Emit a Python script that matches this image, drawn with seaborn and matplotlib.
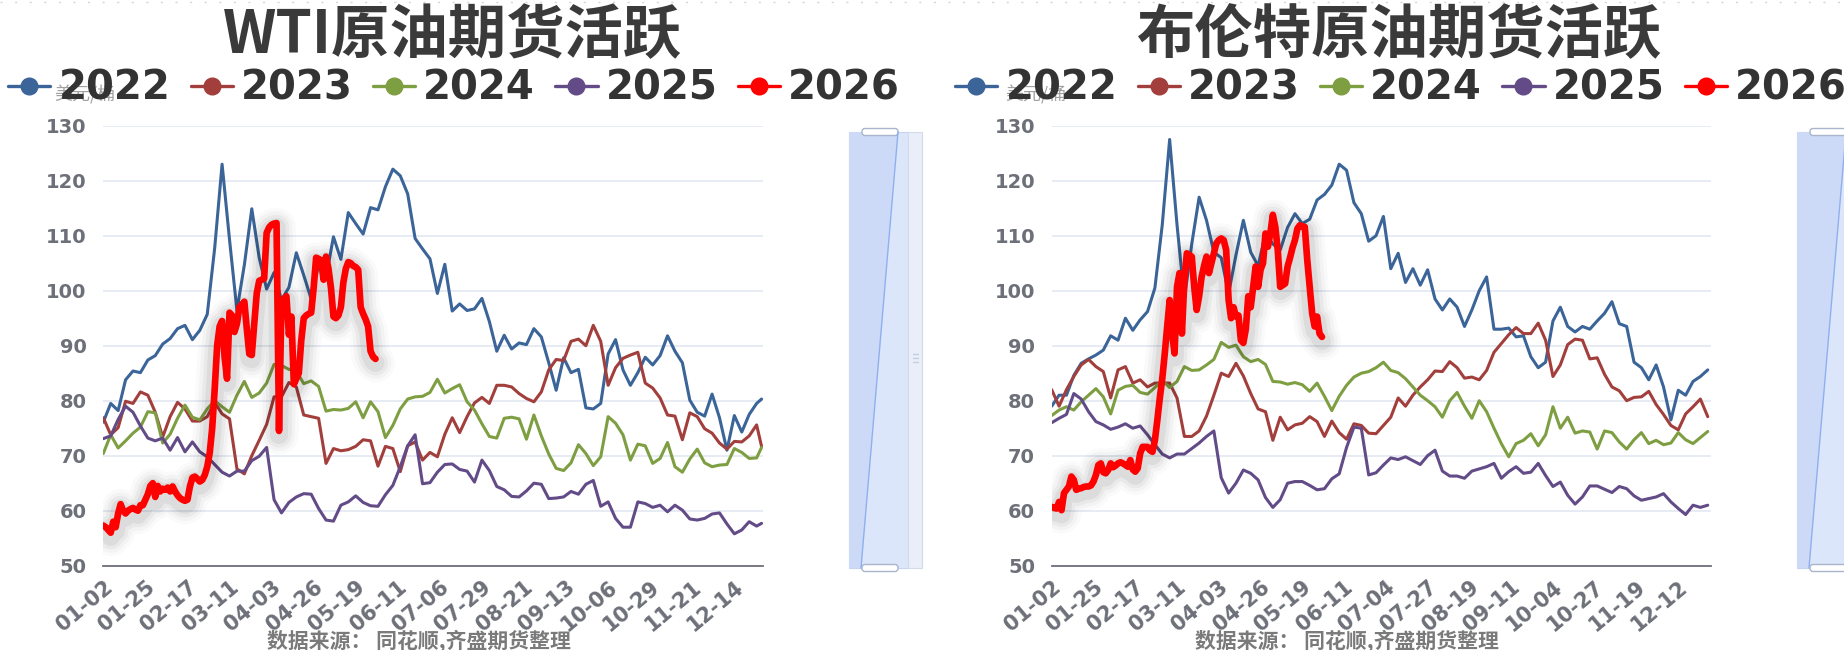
import numpy as np
import pandas as pd
import matplotlib
matplotlib.use("Agg")
import matplotlib.pyplot as plt
import seaborn as sns
from matplotlib import patheffects as pe
from matplotlib.lines import Line2D
from matplotlib.patches import Rectangle, Polygon, FancyBboxPatch
from matplotlib.font_manager import FontProperties

# ---------------- data ----------------
YEARS = ["2022", "2023", "2024", "2025", "2026"]
STEP = 3          # category spacing of the 2022-2025 samples (2026 is daily)
TICK_EVERY = 17   # a date label every 17 categories

WTI_TICKS = ["01-02", "01-25", "02-17", "03-11", "04-03", "04-26", "05-19", "06-11",
             "07-06", "07-29", "08-21", "09-13", "10-06", "10-29", "11-21", "12-14"]
BRENT_TICKS = ["01-02", "01-25", "02-17", "03-11", "04-03", "04-26", "05-19", "06-11",
               "07-04", "07-27", "08-19", "09-11", "10-04", "10-27", "11-19", "12-12"]
WTI_N_CATS = 267
BRENT_N_CATS = 269

WTI_2022 = [76.1, 79.5, 78.2, 83.8, 85.4, 85.1, 87.4, 88.2, 90.3, 91.3,
            93.1, 93.7, 91.1, 92.8, 95.7, 107.7, 123.0, 109.3, 96.4, 104.7,
            114.9, 106.0, 100.3, 103.3, 98.3, 100.6, 106.9, 102.8, 98.5, 104.7,
            102.4, 109.8, 105.7, 114.2, 112.2, 110.3, 115.1, 114.7, 118.9, 122.1,
            120.9, 117.6, 109.5, 107.6, 105.8, 99.5, 104.8, 96.3, 97.6, 96.4,
            96.7, 98.6, 94.4, 89.0, 91.9, 89.4, 90.5, 90.2, 93.1, 91.6,
            86.9, 81.9, 87.8, 85.1, 85.7, 78.7, 78.5, 79.5, 88.5, 91.1,
            85.6, 82.8, 85.1, 87.9, 86.5, 88.2, 91.8, 89.0, 86.9, 80.1,
            77.9, 77.2, 81.2, 76.9, 71.0, 77.3, 74.3, 77.5, 79.5, 80.3]
WTI_2023 = [76.9, 73.8, 75.1, 79.9, 79.5, 81.6, 81.0, 77.9, 73.4, 77.1,
            79.7, 78.5, 76.3, 76.3, 77.1, 79.7, 77.6, 76.7, 67.6, 66.7,
            70.0, 72.8, 75.7, 80.7, 80.7, 83.3, 82.5, 77.4, 77.1, 76.8,
            68.6, 71.3, 70.9, 71.1, 71.7, 72.9, 72.7, 68.1, 71.7, 71.3,
            67.1, 71.8, 72.5, 69.2, 70.6, 69.8, 73.9, 76.9, 74.2, 77.1,
            79.6, 80.6, 79.5, 82.8, 82.8, 82.5, 81.3, 80.4, 79.8, 81.6,
            85.6, 87.5, 87.3, 90.8, 91.2, 90.0, 93.7, 90.8, 82.8, 86.0,
            87.7, 88.3, 88.8, 83.2, 82.3, 80.5, 77.4, 77.2, 72.9, 77.8,
            77.1, 74.9, 74.1, 72.3, 71.2, 72.6, 72.5, 73.6, 75.6, 71.7]
WTI_2024 = [70.4, 73.8, 71.4, 72.7, 74.1, 75.2, 78.0, 77.8, 72.3, 73.9,
            76.8, 79.2, 77.0, 76.5, 78.5, 80.0, 78.9, 77.9, 81.0, 83.5,
            80.6, 81.4, 83.2, 86.6, 86.4, 85.7, 85.4, 83.1, 83.6, 82.6,
            78.1, 78.4, 78.3, 78.6, 79.8, 76.9, 79.8, 78.0, 73.3, 75.5,
            78.5, 80.3, 80.7, 80.8, 81.5, 83.9, 81.4, 82.2, 82.9, 79.8,
            78.3, 75.8, 73.5, 73.2, 76.8, 77.0, 76.7, 73.0, 77.4, 73.6,
            70.3, 67.7, 67.3, 68.7, 72.0, 70.4, 68.2, 69.8, 77.1, 75.9,
            73.8, 69.2, 72.1, 71.8, 68.6, 69.5, 72.4, 68.0, 67.0, 69.4,
            71.2, 68.7, 68.0, 68.3, 68.4, 71.3, 70.6, 69.5, 69.6, 71.5]
WTI_2025 = [73.1, 73.6, 76.6, 79.0, 77.9, 75.4, 73.2, 72.7, 73.2, 71.0,
            73.3, 70.7, 72.5, 70.7, 69.8, 68.4, 67.0, 66.3, 67.2, 67.2,
            69.1, 69.9, 71.5, 62.0, 59.6, 61.5, 62.5, 63.1, 63.0, 60.4,
            58.3, 58.1, 61.0, 61.6, 62.7, 61.5, 60.9, 60.8, 62.9, 64.6,
            68.0, 71.8, 73.8, 64.9, 65.1, 67.0, 68.4, 68.5, 67.5, 67.2,
            65.2, 69.2, 67.3, 64.4, 63.8, 62.6, 62.5, 63.6, 65.0, 64.8,
            62.2, 62.3, 62.5, 63.5, 63.0, 64.8, 65.5, 60.8, 61.6, 58.6,
            57.0, 57.0, 61.6, 61.3, 60.6, 61.0, 59.8, 61.0, 60.1, 58.5,
            58.3, 58.6, 59.4, 59.6, 57.6, 55.8, 56.5, 58.0, 57.2, 57.7]
WTI_2026 = [57.3, 57.0, 56.5, 56.0, 58.0, 57.0, 59.5, 61.2, 60.0, 59.5,
            60.0, 60.3, 60.5, 60.2, 60.0, 61.0, 61.0, 62.0, 63.0, 64.5,
            65.0, 62.5, 64.5, 63.5, 64.0, 63.8, 64.2, 63.5, 64.4, 63.5,
            62.8, 62.3, 62.0, 61.8, 62.0, 64.4, 66.0, 66.2, 65.8, 65.3,
            65.6, 66.5, 68.0, 70.5, 75.0, 82.0, 90.0, 93.5, 94.5, 88.0,
            84.0, 96.0, 95.5, 92.5, 94.0, 97.0, 97.5, 98.0, 93.0, 88.5,
            88.3, 94.0, 99.5, 101.8, 102.0, 102.2, 110.5, 111.5, 112.0, 112.2,
            112.3, 74.5, 98.0, 98.5, 99.0, 92.0, 95.3, 83.0, 84.0, 85.0,
            91.0, 95.0, 95.5, 95.8, 96.0, 100.5, 106.0, 105.8, 105.5, 102.0,
            106.2, 104.0, 100.5, 95.3, 95.0, 95.5, 97.0, 101.5, 104.0, 105.2,
            105.0, 104.5, 104.3, 103.8, 97.0, 95.8, 94.8, 93.5, 89.0, 88.0,
            87.6]

BRENT_2022 = [79.0, 81.0, 81.0, 84.6, 86.8, 87.6, 88.3, 89.2, 91.8, 91.0,
              95.0, 92.8, 94.7, 96.2, 100.5, 112.0, 127.5, 112.0, 98.5, 108.5,
              117.0, 112.8, 107.0, 106.0, 99.5, 106.5, 112.8, 107.0, 104.5, 110.4,
              108.5, 107.4, 111.5, 114.0, 112.2, 113.0, 116.5, 117.5, 119.2, 123.0,
              121.9, 116.0, 114.0, 109.0, 110.0, 113.5, 104.0, 106.8, 101.5, 104.0,
              101.0, 103.8, 98.5, 96.5, 98.5, 97.0, 93.5, 96.5, 100.0, 102.5,
              93.0, 93.0, 93.2, 91.6, 91.8, 88.0, 86.0, 87.0, 94.5, 97.0,
              93.5, 92.5, 93.5, 93.0, 94.5, 95.9, 98.0, 94.0, 93.5, 87.0,
              86.0, 83.8, 86.5, 82.5, 76.5, 81.9, 81.0, 83.5, 84.4, 85.6]
BRENT_2023 = [82.0, 79.0, 82.0, 84.4, 86.5, 87.5, 86.2, 85.3, 80.5, 85.6,
              86.2, 83.2, 83.8, 82.5, 83.2, 83.2, 83.2, 80.5, 73.5, 73.5,
              74.5, 77.2, 81.0, 85.0, 84.4, 86.8, 84.5, 81.3, 78.5, 78.0,
              72.8, 77.0, 74.7, 75.6, 75.9, 77.1, 76.2, 73.5, 76.3, 74.2,
              73.0, 75.8, 75.5, 74.1, 74.0, 75.5, 77.0, 80.5, 79.0, 81.0,
              82.5, 83.8, 85.4, 85.3, 87.1, 86.0, 84.1, 84.3, 83.8, 85.5,
              88.8, 90.4, 92.0, 93.3, 92.2, 92.2, 94.1, 91.0, 84.4, 86.5,
              90.2, 91.2, 91.0, 87.6, 87.8, 84.8, 82.5, 81.8, 80.0, 80.6,
              80.7, 81.7, 79.3, 77.5, 75.5, 74.7, 77.6, 78.9, 80.3, 77.1]
BRENT_2024 = [77.3, 78.3, 78.9, 78.3, 79.8, 81.0, 82.2, 80.7, 77.6, 81.9,
              82.6, 82.8, 81.5, 81.2, 82.4, 83.7, 82.4, 83.5, 86.2, 85.5,
              85.6, 86.5, 87.5, 90.6, 89.7, 90.1, 88.0, 87.1, 87.5, 86.6,
              83.5, 83.4, 83.0, 83.3, 82.9, 81.7, 83.2, 80.8, 78.2, 80.8,
              82.8, 84.3, 85.0, 85.3, 86.0, 87.0, 85.5, 85.1, 84.0, 82.5,
              81.0, 80.0, 78.9, 77.0, 80.0, 81.5, 79.0, 76.8, 80.0, 78.0,
              75.0, 72.2, 69.8, 72.2, 72.8, 74.0, 71.8, 73.8, 78.9, 75.0,
              77.0, 74.1, 74.5, 74.3, 71.2, 74.5, 74.2, 72.5, 71.2, 72.9,
              74.2, 72.2, 72.8, 72.0, 72.3, 74.2, 72.9, 72.2, 73.3, 74.4]
BRENT_2025 = [76.0, 76.8, 77.5, 81.3, 80.3, 78.0, 76.2, 75.6, 74.8, 75.2,
              75.8, 75.0, 75.4, 73.8, 72.0, 70.3, 69.6, 70.3, 70.3, 71.3,
              72.3, 73.5, 74.5, 66.0, 63.2, 65.0, 67.4, 66.8, 65.6, 62.4,
              60.6, 62.0, 65.0, 65.3, 65.3, 64.6, 63.8, 64.0, 65.8, 66.7,
              71.5, 75.2, 75.0, 66.5, 66.9, 68.3, 69.6, 69.3, 69.8, 69.1,
              68.4, 70.0, 71.0, 67.2, 66.3, 66.3, 65.9, 67.2, 67.6, 68.0,
              68.6, 65.9, 67.1, 68.0, 66.8, 67.0, 68.6, 66.4, 64.4, 65.2,
              62.8, 61.2, 62.5, 64.5, 64.5, 63.9, 63.3, 64.4, 64.0, 62.7,
              61.9, 62.2, 62.5, 63.1, 61.6, 60.4, 59.3, 61.0, 60.6, 61.0]
BRENT_2026 = [60.7, 60.5, 60.4, 61.6, 60.1, 63.2, 63.8, 64.4, 66.2, 65.6,
              63.8, 64.0, 64.1, 64.3, 64.4, 64.4, 64.6, 65.3, 66.5, 68.3,
              68.6, 67.0, 66.8, 67.4, 68.6, 67.9, 68.2, 68.6, 68.8, 68.6,
              68.3, 68.0, 69.2, 67.5, 67.1, 67.7, 70.4, 71.6, 71.6, 71.6,
              71.0, 70.7, 72.8, 76.5, 80.5, 84.0, 88.5, 93.5, 98.3, 92.2,
              88.6, 100.7, 103.2, 92.2, 101.9, 106.8, 106.5, 106.2, 100.7, 96.5,
              99.0, 102.5, 104.5, 106.2, 103.2, 105.0, 106.8, 108.6, 109.2, 109.5,
              109.2, 107.4, 98.3, 95.0, 97.0, 95.3, 95.5, 91.0, 90.5, 93.0,
              99.0, 97.0, 100.7, 104.4, 100.7, 103.8, 105.0, 110.4, 108.0, 110.5,
              113.8, 111.6, 107.4, 100.7, 101.0, 101.3, 104.4, 106.0, 107.8, 109.2,
              111.3, 111.9, 111.7, 111.6, 105.6, 100.7, 95.9, 93.5, 95.3, 92.2,
              91.6]

WTI_SERIES = dict(zip(YEARS, [WTI_2022, WTI_2023, WTI_2024, WTI_2025, WTI_2026]))
BRENT_SERIES = dict(zip(YEARS, [BRENT_2022, BRENT_2023, BRENT_2024, BRENT_2025, BRENT_2026]))

COLORS = {"2022": "#3b6498", "2023": "#a23e3b", "2024": "#7e9e42",
          "2025": "#624b87", "2026": "#ff0000"}

# ---------------- style ----------------
sns.set_style("white")
plt.rcParams["font.family"] = ["DejaVu Sans", "Noto Sans CJK SC"]
CJK = ["Noto Sans CJK SC", "DejaVu Sans"]
AXIS_GRAY = "#6E7079"

W, H = 1844, 650
fig = plt.figure(figsize=(W / 100, H / 100), dpi=100)
fig.patch.set_facecolor("white")

# full-figure overlay in pixel units for decorations
ov = fig.add_axes([0, 0, 1, 1])
ov.set_xlim(0, W)
ov.set_ylim(H, 0)
ov.axis("off")
ov.patch.set_alpha(0)
ov.plot([0, W], [2, 2], color="#d6d6d6", lw=1, ls=(0, (1.5, 9)))


def draw_slider(dx):
    """Vertical zoom slider drawn beside a chart."""
    top, bot = 132, 568
    ov.add_patch(Rectangle((849 + dx, top), 59, bot - top, fc="#dce6fa", ec="#c6d4f0", lw=0.8))
    ov.add_patch(Rectangle((908 + dx, top), 14, bot - top, fc="#e9eef9", ec="#d3dbeb", lw=0.8))
    ov.add_patch(Polygon([(849 + dx, top), (898 + dx, top), (861 + dx, bot), (849 + dx, bot)],
                         closed=True, fc="#ccdaf8", ec="none"))
    ov.plot([898 + dx, 861 + dx], [top, bot], color="#8fb0ee", lw=1)
    for yy in (top - 3.5, bot - 3.5):
        ov.add_patch(FancyBboxPatch((862 + dx, yy), 36, 7,
                                    boxstyle="round,pad=0,rounding_size=3",
                                    fc="white", ec="#a9b5cb", lw=1))
    for yy in (354, 358, 362):
        ov.plot([913 + dx, 918 + dx], [yy, yy], color="#c5cde0", lw=1)


def draw_chart(left, right, xspan, n_cats, ticks, series, title, title_x,
               legend_x, unit_x, source_x):
    top, bottom = 125.7, 565.7
    ax = fig.add_axes([left / W, 1 - bottom / H, (right - left) / W, (bottom - top) / H])
    ax.set_facecolor("none")

    frames = []
    for year in YEARS:
        vals = series[year]
        step = 1 if year == "2026" else STEP
        cats = np.minimum(np.arange(len(vals)) * step, n_cats - 1)
        frames.append(pd.DataFrame({"cat": cats, "price": vals, "year": year}))
    df = pd.concat(frames, ignore_index=True)

    for year in YEARS:
        sub = df[df["year"] == year]
        thick = year == "2026"
        sns.lineplot(data=sub, x="cat", y="price", ax=ax, color=COLORS[year],
                     linewidth=4.8 if thick else 2.2, estimator=None, sort=False,
                     legend=False)
        line = ax.lines[-1]
        line.set_solid_joinstyle("round")
        line.set_solid_capstyle("round")
        if thick:
            line.set_zorder(6)
            shadow = [pe.Stroke(linewidth=w, foreground="black", alpha=a, offset=(0, -3))
                      for w, a in ((28, 0.018), (23, 0.028), (18, 0.04), (13, 0.055))]
            line.set_path_effects(shadow + [pe.Normal()])

    ax.set_xlim(0, xspan)
    ax.set_ylim(50, 130)
    ax.set_yticks(np.arange(50, 131, 10))
    ax.set_xticks(np.arange(len(ticks)) * TICK_EVERY)
    ax.set_xticklabels(ticks, rotation=40, ha="right", rotation_mode="anchor")
    ax.set_xlabel("")
    ax.set_ylabel("")
    ax.grid(axis="y", color="#E0E6F1", linewidth=1.1)
    ax.grid(axis="x", visible=False)
    ax.set_axisbelow(True)
    for s in ("top", "right", "left"):
        ax.spines[s].set_visible(False)
    ax.spines["bottom"].set_color(AXIS_GRAY)
    ax.spines["bottom"].set_linewidth(1.3)
    ax.tick_params(axis="y", length=0, pad=12, labelsize=14, labelcolor=AXIS_GRAY)
    ax.tick_params(axis="x", length=5, width=1.2, color=AXIS_GRAY, pad=3,
                   labelsize=15, labelcolor=AXIS_GRAY)
    for lab in ax.get_xticklabels() + ax.get_yticklabels():
        lab.set_fontweight("bold")

    fig.text(title_x / W, 1 - 36 / H, title, ha="center", va="center", fontsize=42,
             fontweight="bold", color="#3a3a3a", family=CJK)
    fig.text(unit_x / W, 1 - 95 / H, "美元/桶", ha="center", va="center", fontsize=13,
             color="#a0a0a0", family=CJK)
    fig.text(source_x / W, 1 - 641 / H, "数据来源： 同花顺,齐盛期货整理", ha="center",
             va="center", fontsize=15, fontweight="bold", color="#7a7a7a", family=CJK)

    handles = [Line2D([], [], color=COLORS[y], lw=2.4, marker="o", markersize=12,
                      markerfacecolor=COLORS[y], markeredgecolor=COLORS[y]) for y in YEARS]
    fig.legend(handles, YEARS, loc="center", bbox_to_anchor=(legend_x / W, 1 - 89 / H),
               bbox_transform=fig.transFigure, ncol=5, frameon=False,
               prop=FontProperties(family="DejaVu Sans", weight="bold", size=29),
               labelcolor="#333333", handlelength=1.05, handletextpad=0.2,
               columnspacing=0.5, borderpad=0, borderaxespad=0)
    return ax


draw_slider(0)
draw_slider(948)

draw_chart(103.3, 763.3, 266.7, WTI_N_CATS, WTI_TICKS, WTI_SERIES,
           "WTI原油期货活跃", 453, 454, 85, 419)
draw_chart(1051.7, 1710.7, 268.2, BRENT_N_CATS, BRENT_TICKS, BRENT_SERIES,
           "布伦特原油期货活跃", 1400, 1401, 1036, 1347)

fig.savefig("out.png", dpi=100, facecolor="white")
